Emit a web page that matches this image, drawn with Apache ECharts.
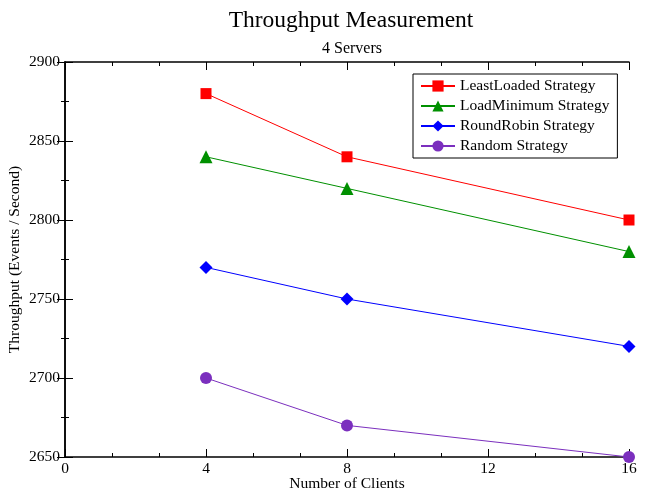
<!DOCTYPE html>
<html><head><meta charset="utf-8">
<script src="https://cdn.jsdelivr.net/npm/echarts@6/dist/echarts.min.js"></script>
<style>html,body{margin:0;padding:0;background:#fff}#c{width:645px;height:494px}</style>
</head><body><div id="c"></div>
<script>
const clients = [4, 8, 16];
const leastLoaded = [2880, 2840, 2800];
const loadMinimum = [2840, 2820, 2780];
const roundRobin = [2770, 2750, 2720];
const randomStrat = [2700, 2670, 2650];
const seriesNames = ['LeastLoaded Strategy', 'LoadMinimum Strategy', 'RoundRobin Strategy', 'Random Strategy'];
const xTicks = [0, 4, 8, 12, 16];
const yTicks = [2650, 2700, 2750, 2800, 2850, 2900];

const F = 'Liberation Serif, Times New Roman, serif';
const FS = 15.5;
const chart = echarts.init(document.getElementById('c'));
const pair = (ys) => clients.map((x, i) => [x, ys[i]]);
const mk = (name, ys, color, symbol, size) => ({
  name, type: 'line', data: pair(ys), symbol, symbolSize: size,
  lineStyle: { color, width: 1 }, itemStyle: { color },
  xAxisIndex: 0, yAxisIndex: 0, animation: false, clip: false
});
const axisCommon = {
  axisLine: { show: true, lineStyle: { color: '#000', width: 1.5 } },
  axisTick: { show: true, inside: true, length: 8, lineStyle: { color: '#000', width: 1 } },
  minorTick: { show: true, length: 4, lineStyle: { color: '#000', width: 1 } },
  splitLine: { show: false }
};
chart.setOption({
  backgroundColor: '#fff',
  title: [{
    text: 'Throughput Measurement', left: 346, textAlign: 'center', top: 4,
    textStyle: { fontFamily: F, fontSize: 23.5, fontWeight: 'normal', color: '#000' }
  }, {
    text: '4 Servers', left: 347, textAlign: 'center', top: 36,
    textStyle: { fontFamily: F, fontSize: 16, fontWeight: 'normal', color: '#000' }
  }],
  legend: {
    orient: 'vertical', left: 413, top: 74, itemGap: 4, itemWidth: 34, itemHeight: 14,
    borderColor: '#000', borderWidth: 1, padding: [4, 8, 4, 7], borderRadius: 0,
    textStyle: { fontFamily: F, fontSize: FS, lineHeight: 16, color: '#000' },
    data: seriesNames
  },
  grid: { left: 65, right: 16, top: 62, bottom: 37, outerBoundsMode: 'none', containLabel: false },
  xAxis: [
    Object.assign({}, axisCommon, {
      type: 'value', min: xTicks[0], max: xTicks[xTicks.length - 1], interval: 4, position: 'bottom',
      minorTick: Object.assign({}, axisCommon.minorTick, { splitNumber: 3 }),
      axisLabel: { fontFamily: F, fontSize: FS, color: '#000', margin: 4 },
      name: 'Number of Clients', nameLocation: 'middle', nameGap: 19, nameMoveOverlap: false,
      nameTextStyle: { fontFamily: F, fontSize: FS, color: '#000' }
    }),
    Object.assign({}, axisCommon, {
      type: 'value', min: xTicks[0], max: xTicks[xTicks.length - 1], interval: 4, position: 'top',
      minorTick: Object.assign({}, axisCommon.minorTick, { splitNumber: 3 }),
      axisLabel: { show: false }
    })
  ],
  yAxis: [
    Object.assign({}, axisCommon, {
      type: 'value', min: yTicks[0], max: yTicks[yTicks.length - 1], interval: 50, position: 'left',
      minorTick: Object.assign({}, axisCommon.minorTick, { splitNumber: 2 }),
      axisLabel: { fontFamily: F, fontSize: FS, color: '#000', margin: 5, formatter: (v) => String(v) },
      name: 'Throughput (Events / Second)', nameLocation: 'middle', nameGap: 42, nameMoveOverlap: false,
      nameTextStyle: { fontFamily: F, fontSize: FS, color: '#000' }
    }),
    Object.assign({}, axisCommon, {
      type: 'value', min: yTicks[0], max: yTicks[yTicks.length - 1], interval: 50, position: 'right',
      minorTick: Object.assign({}, axisCommon.minorTick, { splitNumber: 2 }),
      axisLabel: { show: false }
    })
  ],
  series: [
    mk(seriesNames[0], leastLoaded, '#ff0000', 'rect', 11),
    mk(seriesNames[1], loadMinimum, '#009000', 'triangle', 13),
    mk(seriesNames[2], roundRobin, '#0000ff', 'diamond', 13),
    mk(seriesNames[3], randomStrat, '#7b2fbe', 'circle', 12)
  ]
});
</script></body></html>
